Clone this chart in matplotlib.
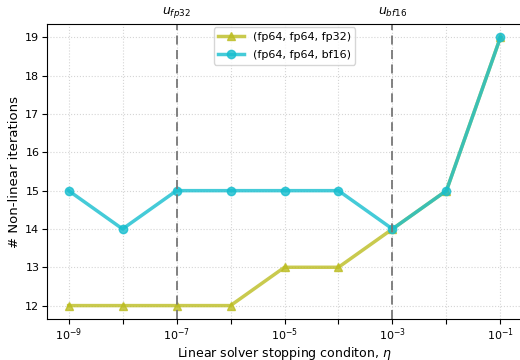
import numpy as np
import matplotlib.pyplot as plt

# stopping tolerance of the linear solver
eta = np.array([1e-9, 1e-8, 1e-7, 1e-6, 1e-5, 1e-4, 1e-3, 1e-2, 1e-1])
# non-linear iterations per precision configuration
iters_fp32 = np.array([12, 12, 12, 12, 13, 13, 14, 15, 19])
iters_bf16 = np.array([15, 14, 15, 15, 15, 15, 14, 15, 19])
labels = ["(fp64, fp64, fp32)", "(fp64, fp64, bf16)"]
# unit roundoff markers
u_pos = [1e-7, 1e-3]
u_txt = [r"$u_{fp32}$", r"$u_{bf16}$"]

fig = plt.figure(figsize=(5.2, 3.6), dpi=100)
ax = fig.add_axes([47/520, 41/360, 475/520, 295/360])

ax.plot(eta, iters_fp32, color="#bcbd22", marker="^", lw=2.5, ms=6,
        alpha=0.8, label=labels[0])
ax.plot(eta, iters_bf16, color="#17becf", marker="o", lw=2.5, ms=6,
        alpha=0.8, label=labels[1])

ax.set_xscale("log")
ax.set_xticks(eta)
ax.set_xticklabels([f"$10^{{{int(np.log10(e))}}}$" if i % 2 == 0 else ""
                    for i, e in enumerate(eta)])
ax.xaxis.set_minor_locator(plt.NullLocator())
ax.set_yticks(range(12, 20))
ax.tick_params(labelsize=8, length=3.5, pad=2)
ax.grid(True, ls=":", lw=0.8, color="#d5d5d5")

for p, t in zip(u_pos, u_txt):
    ax.axvline(p, color="#777777", ls=(0, (5, 3)), lw=1.3)
    ax.text(p, 1.04, t, transform=ax.get_xaxis_transform(),
            ha="center", va="center", fontsize=9)

ax.spines["right"].set_visible(False)
ax.set_xlabel(r"Linear solver stopping conditon, $\eta$", fontsize=9, labelpad=1)
ax.set_ylabel("# Non-linear iterations", fontsize=9.5, labelpad=3)
ax.legend(loc="upper center", fontsize=8, borderaxespad=0.3,
          labelspacing=0.75, handlelength=2.3)

fig.savefig("out.png", dpi=100)
